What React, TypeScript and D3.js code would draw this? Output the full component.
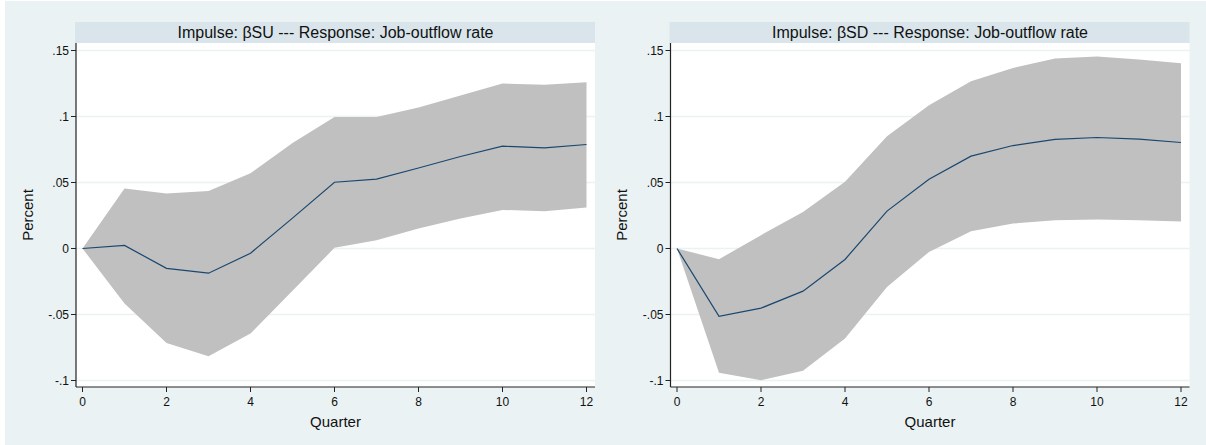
import React from 'react';
import * as d3 from 'd3';

const quarters = [0, 1, 2, 3, 4, 5, 6, 7, 8, 9, 10, 11, 12];

// Impulse: βSU
const suIrf = [0, 0.0023, -0.015, -0.0187, -0.0036, 0.023, 0.0502, 0.0525, 0.061, 0.0697, 0.0775, 0.0762, 0.0788];
const suUpper = [0, 0.0455, 0.0417, 0.0436, 0.057, 0.08, 0.0997, 0.0997, 0.1068, 0.116, 0.125, 0.124, 0.126];
const suLower = [0, -0.0417, -0.0715, -0.0816, -0.0644, -0.032, 0.0005, 0.0063, 0.0152, 0.0227, 0.0292, 0.0283, 0.031];

// Impulse: βSD
const sdIrf = [0, -0.0513, -0.0452, -0.0323, -0.0083, 0.0283, 0.0525, 0.07, 0.078, 0.0826, 0.0841, 0.0828, 0.0803];
const sdUpper = [0, -0.0081, 0.0101, 0.0277, 0.0505, 0.085, 0.1086, 0.1267, 0.1368, 0.1439, 0.1455, 0.1432, 0.1404];
const sdLower = [0, -0.0942, -0.0998, -0.0927, -0.0682, -0.0291, -0.0026, 0.0131, 0.0189, 0.0214, 0.022, 0.0214, 0.0205];

const yTicks = [-0.1, -0.05, 0, 0.05, 0.1, 0.15];
const yTickLabels = ['-.1', '-.05', '0', '.05', '.1', '.15'];
const xTicks = [0, 2, 4, 6, 8, 10, 12];

const titles = [
  'Impulse: βSU --- Response: Job-outflow rate',
  'Impulse: βSD --- Response: Job-outflow rate',
];

const FONT = 'Liberation Sans, Arial, sans-serif';

type PanelProps = {
  left: number;
  title: string;
  irf: number[];
  upper: number[];
  lower: number[];
};

const Panel = ({ left, title, irf, upper, lower }: PanelProps) => {
  const plotW = 519;
  const top = 43;
  const bottom = 387;
  const right = left + plotW;

  const x = d3.scaleLinear().domain([0, 12]).range([left + 6.5, left + 510.5]);
  const y = d3.scaleLinear().domain([-0.1, 0.15]).range([380.5, 50.5]);

  const area = d3
    .area<number>()
    .x((q) => x(q))
    .y0((q, i) => y(lower[i]))
    .y1((q, i) => y(upper[i]));
  const line = d3
    .line<number>()
    .x((q) => x(q))
    .y((q, i) => y(irf[i]));

  const cx = (left + right) / 2;

  return (
    <g>
      <rect x={left - 1} y={22} width={plotW + 1} height={21} fill="#d9e5ea" />
      <text x={cx} y={37.5} textAnchor="middle" fontSize={16} fontFamily={FONT} fill="#111">
        {title}
      </text>
      <rect x={left} y={top} width={plotW} height={bottom - top} fill="#ffffff" />
      {yTicks.map((t) => (
        <line key={t} x1={left} x2={right} y1={y(t)} y2={y(t)} stroke="#eaf2f3" strokeWidth={1.5} />
      ))}
      <path d={area(quarters) || ''} fill="#c0c0c0" />
      <path d={line(quarters) || ''} fill="none" stroke="#1a476f" strokeWidth={1.2} />
      <line x1={left} x2={left} y1={top} y2={bottom} stroke="#222" strokeWidth={1.2} />
      <line x1={left} x2={right} y1={bottom} y2={bottom} stroke="#222" strokeWidth={1.2} />
      {yTicks.map((t, i) => (
        <g key={t}>
          <line x1={left - 5} x2={left} y1={y(t)} y2={y(t)} stroke="#222" strokeWidth={1} />
          <text x={left - 7} y={y(t) + 4} textAnchor="end" fontSize={12} fontFamily={FONT} fill="#111">
            {yTickLabels[i]}
          </text>
        </g>
      ))}
      {xTicks.map((t) => (
        <g key={t}>
          <line x1={x(t)} x2={x(t)} y1={bottom} y2={bottom + 5} stroke="#222" strokeWidth={1} />
          <text x={x(t)} y={405.5} textAnchor="middle" fontSize={12} fontFamily={FONT} fill="#111">
            {t}
          </text>
        </g>
      ))}
      <text x={cx} y={426.5} textAnchor="middle" fontSize={15} fontFamily={FONT} fill="#111">
        Quarter
      </text>
      <text
        transform={`translate(${left - 43.5},${(top + bottom) / 2}) rotate(-90)`}
        textAnchor="middle"
        fontSize={15}
        fontFamily={FONT}
        fill="#111"
      >
        Percent
      </text>
    </g>
  );
};

export default function App() {
  return (
    <svg
      width={1206}
      height={445}
      style={{ position: 'absolute', left: 0, top: 0, background: '#ffffff' }}
    >
      <rect x={5} y={1} width={1201} height={444} fill="#eaf2f3" />
      <Panel left={76} title={titles[0]} irf={suIrf} upper={suUpper} lower={suLower} />
      <Panel left={670.5} title={titles[1]} irf={sdIrf} upper={sdUpper} lower={sdLower} />
    </svg>
  );
}
